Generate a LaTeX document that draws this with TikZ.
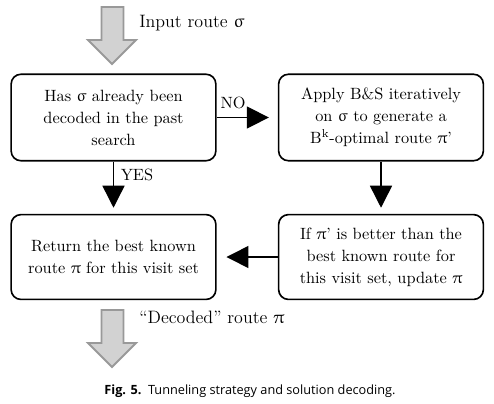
\documentclass[tikz,border=0pt]{standalone}
\usepackage{fontspec}
\usepackage{upgreek}
\newfontfamily\capfont{Open Sans}
\usetikzlibrary{arrows.meta}

\begin{document}
\begin{tikzpicture}[x=0.613pt,y=-0.613pt,
    box/.style = {rectangle,draw,line width=1pt,rounded corners=6pt,minimum width=125.5pt,minimum height=53pt,inner sep=0pt,align=center,font=\fontsize{10}{13.5}\selectfont},
    flow/.style = {-{Triangle[length=13.5pt,width=13.5pt]},line width=0.9pt,shorten >=5.5pt},
    bigarrow/.style = {draw=gray!80,fill=gray!35,line width=1.2pt},
    lab/.style = {anchor=base west,inner sep=0pt,font=\fontsize{11}{13}\selectfont}]
\useasboundingbox (0,0) rectangle (494,403);
\foreach \top in {7,310} \filldraw[bigarrow] (101.5,\top) -- ++(22,0) -- ++(0,33) -- ++(12.5,0) -- ++(-24,24) -- ++(-24,-24) -- ++(13.5,0) -- cycle;
\node[lab] (inroute) at (139,27) {Input route $\upsigma$};
\node[lab] (outroute) at (139,323) {``Decoded'' route $\uppi$};
\node[box] (seen) at (113.5,117.5) {Has $\upsigma$ already been\\decoded in the past\\search};
\node[box] (bks) at (381,117.5) {Apply B\&S iteratively\\on $\upsigma$ to generate a\\B\textsuperscript{k}-optimal route $\uppi$'};
\node[box,minimum height=52pt] (ret) at (113.5,257) {Return the best known\\route $\uppi$ for this visit set};
\node[box,minimum height=52pt] (upd) at (381,257) {If $\uppi$' is better than the\\best known route for\\this visit set, update $\uppi$};
\draw[flow] (seen.east) -- (bks.west) node[pos=0,above right,inner sep=2pt,yshift=3pt] (no) {NO};
\draw[flow,shorten >=3.7pt] (seen.south) -- (ret.north) node[pos=0,anchor=north west,inner sep=4pt] (yes) {YES};
\draw[flow,shorten >=3.7pt] (bks.south) -- (upd.north);
\draw[flow,shorten >=6pt] (upd.west) -- (ret.east);
\node[anchor=base,inner sep=0pt,font=\capfont\fontsize{7.8}{9}\selectfont] (caption) at (250,394) {\textbf{Fig. 5.}\ \ Tunneling strategy and solution decoding.};
\end{tikzpicture}
\end{document}
